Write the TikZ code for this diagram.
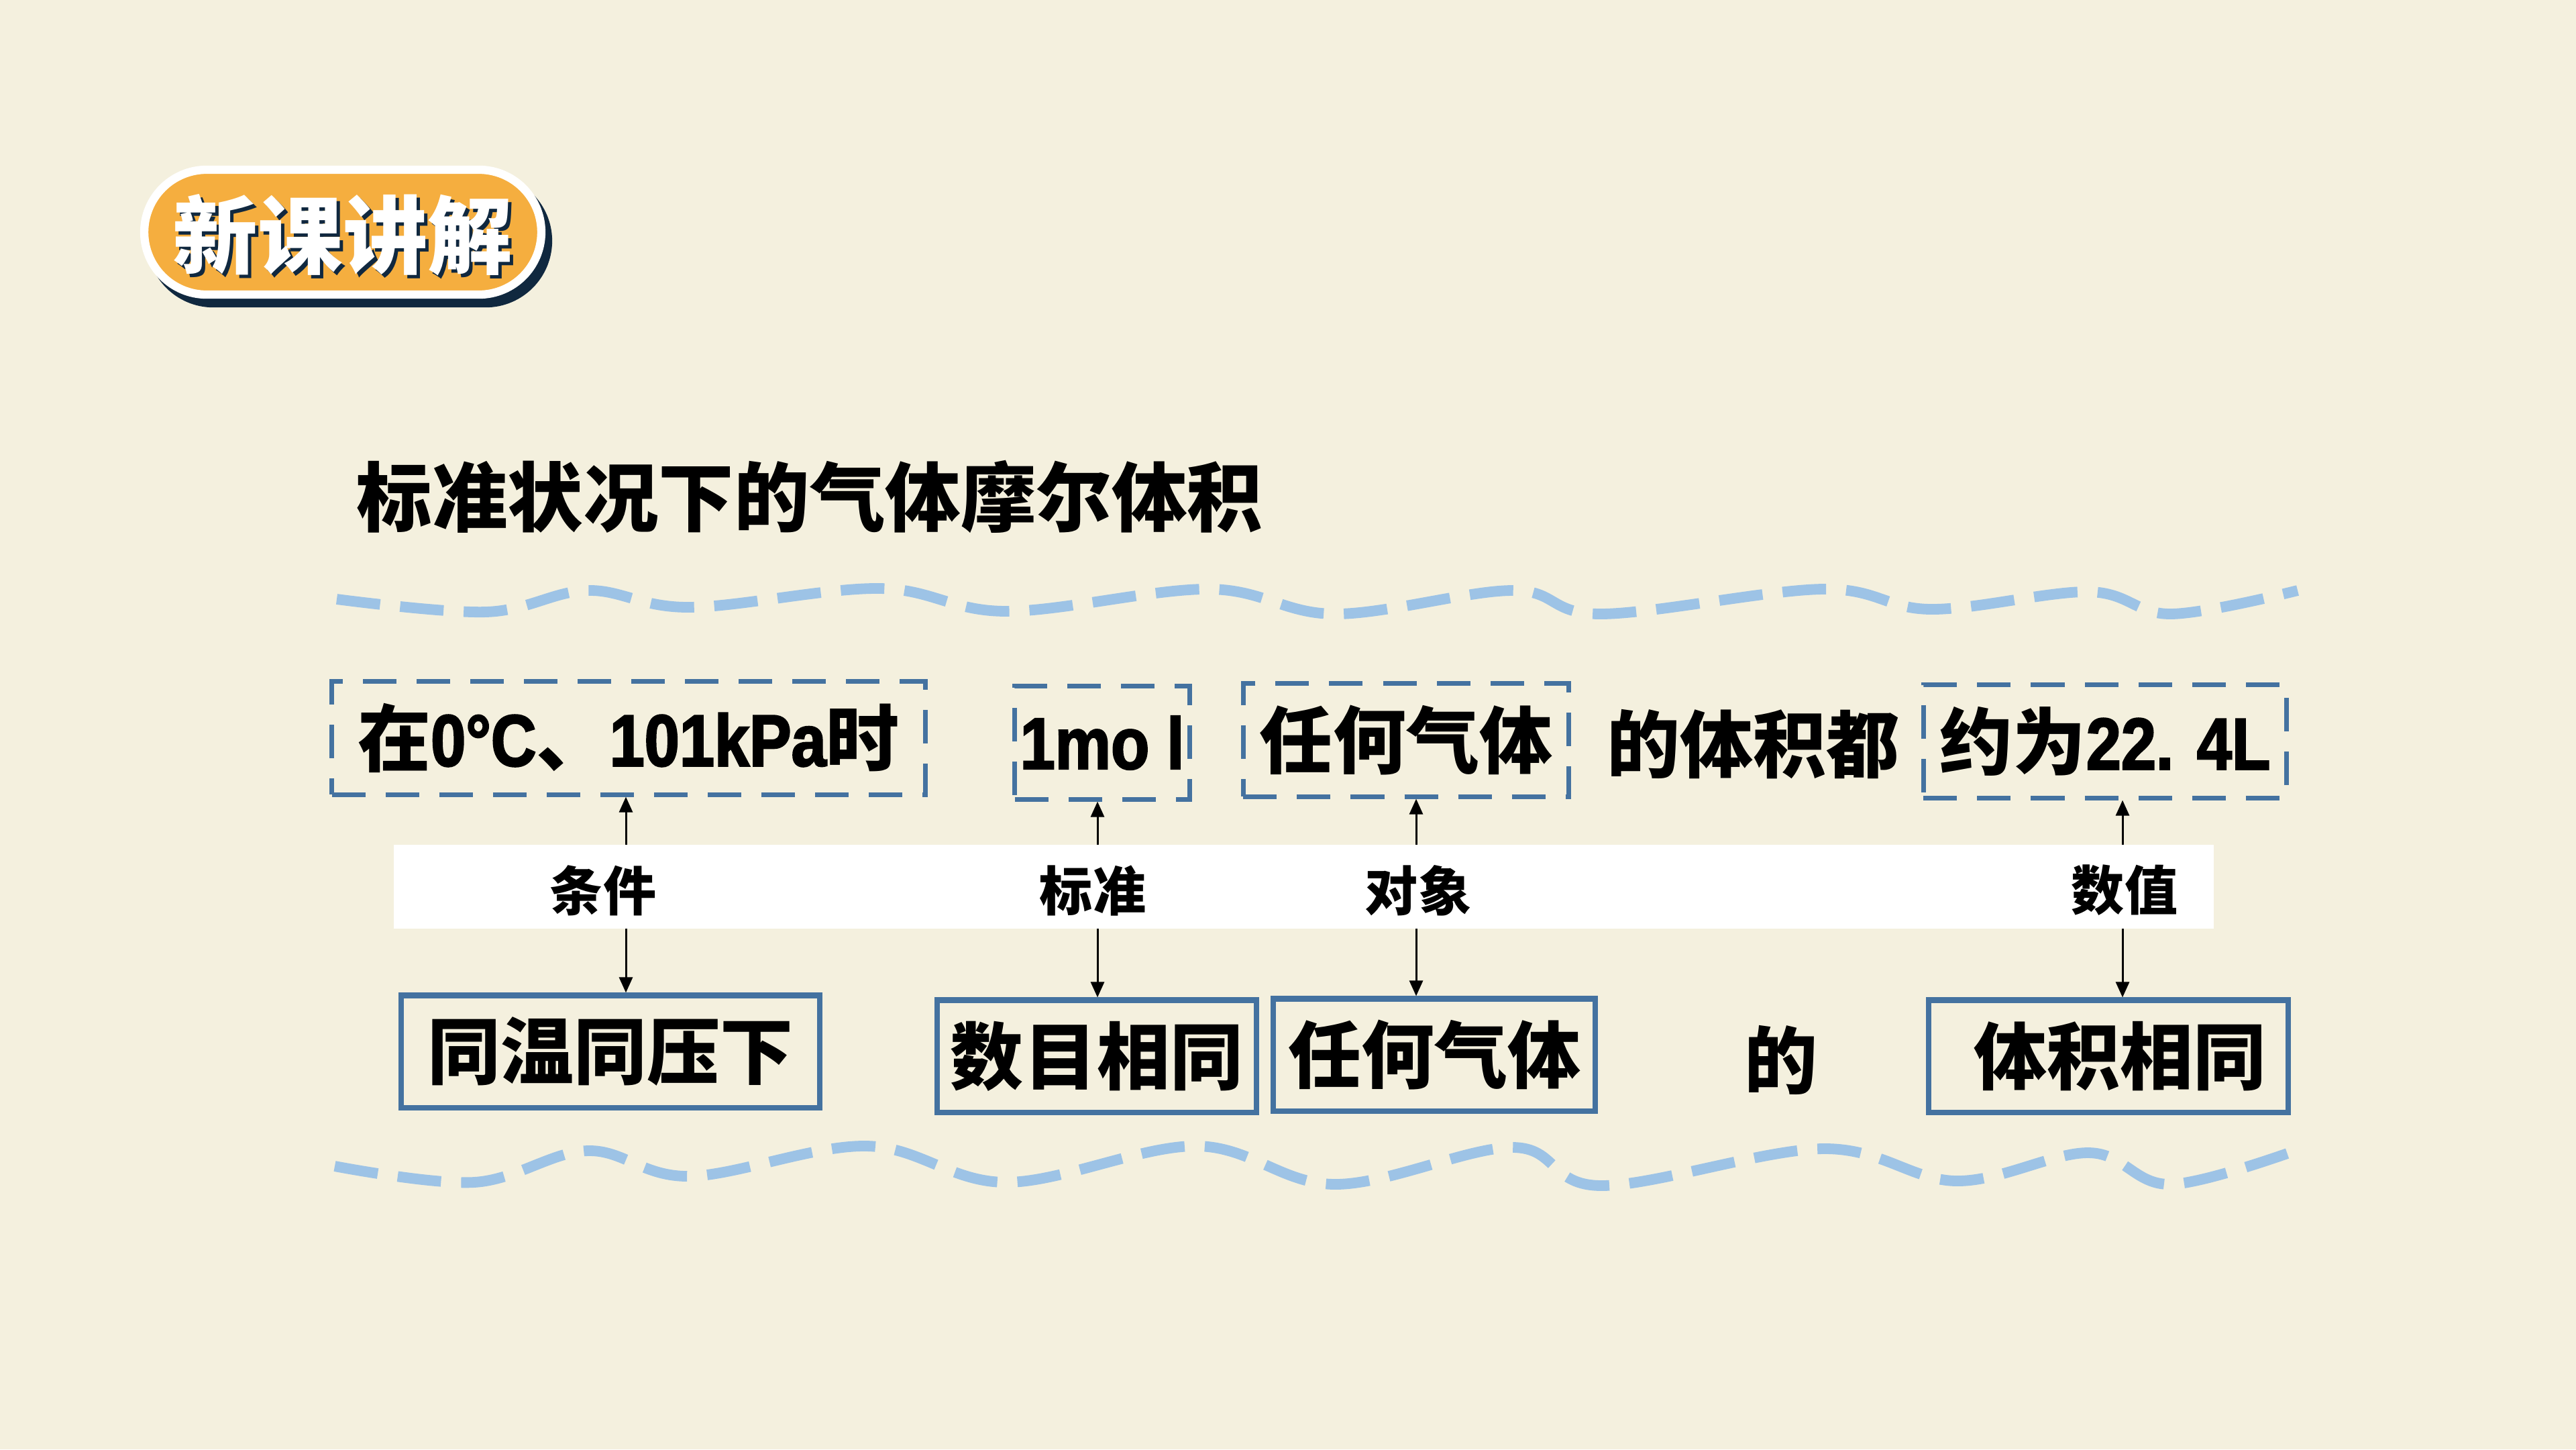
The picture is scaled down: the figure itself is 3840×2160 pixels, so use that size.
\documentclass[tikz,border=0pt]{standalone}
\usepackage{fontspec}
\setmainfont{Noto Sans CJK SC}
\newfontfamily\lat{Liberation Sans}[FakeStretch=0.86, FakeBold=2.2]
\usetikzlibrary{shapes.misc,arrows.meta}
\definecolor{bg}{HTML}{F4F0DE}
\definecolor{boxblue}{HTML}{4472A0}
\definecolor{wavecol}{HTML}{9DC3E6}
\definecolor{badgecol}{HTML}{F5AE3F}
\definecolor{navy}{HTML}{10283F}
\tikzset{
  bigfont/.style={font=\bfseries\fontsize{31}{31}\selectfont},
  dbox/.style={draw=boxblue, line width=2pt, dash pattern=on 0.5cm off 0.3cm, minimum height=1.68cm, inner sep=0pt, bigfont},
  sbox/.style={draw=boxblue, line width=2.3pt, minimum height=1.67cm, inner sep=0pt, bigfont},
  plaintext/.style={inner sep=0pt, bigfont},
  lbl/.style={inner sep=0pt, font=\bfseries\fontsize{22.5}{22.5}\selectfont},
  link/.style={{Triangle[length=0.23cm,width=0.2cm]}-{Triangle[length=0.23cm,width=0.2cm]}, line width=0.85pt},
  wavy/.style={draw=wavecol, line width=4.5pt, dash pattern=on 0.65cm off 0.3cm},
  pill/.style={rounded rectangle, line width=3.5pt, minimum width=6.15cm, minimum height=1.86cm},
}
\begin{document}
\begin{tikzpicture}[x=0.01cm,y=-0.01cm]
\fill[bg] (0,0) rectangle (3840,2160);
\useasboundingbox (0,0) rectangle (3840,2160);

% badge
\node[pill, fill=navy, draw=navy] (badgeshadow) at (521,359) {};
\node[pill, fill=badgecol, draw=white] (badge) at (511,346) {};
\node[text=navy, font=\bfseries\fontsize{36}{36}\selectfont, inner sep=0pt] (badgetextsh) at (516,355) {新课讲解};
\node[text=white, font=\bfseries\fontsize{36}{36}\selectfont, inner sep=0pt] (badgetext) at (511,350) {新课讲解};

% heading
\node[inner sep=0pt, font=\bfseries\fontsize{32}{32}\selectfont] (heading) at (1207,740) {标准状况下的气体摩尔体积};

% waves
\draw[wavy] plot[smooth, tension=0.6] coordinates {(502,893) (725,912) (876,880) (1028,905) (1311,877) (1500,911) (1802,878) (1990,915) (2255,880) (2387,915) (2717,878) (2878,908) (3114,882) (3236,915) (3425,880)};
\draw[wavy] plot[smooth, tension=0.6] coordinates {(499,1738) (707,1762) (876,1715) (1028,1753) (1292,1708) (1500,1762) (1783,1708) (1990,1765) (2255,1710) (2387,1767) (2717,1712) (2916,1760) (3114,1718) (3236,1765) (3435,1710)};

% top row
\node[dbox, minimum width=8.84cm] (t1) at (937,1100) {在{\lat 0°C}、{\lat 101kPa}时};
\node[dbox, minimum width=2.60cm] (t2) at (1643,1107) {\lat 1mo l};
\node[dbox, minimum width=4.85cm] (t3) at (2096,1103) {任何气体};
\node[plaintext] (t4) at (2613,1109) {的体积都};
\node[dbox, minimum width=5.41cm] (t5) at (3138,1105) {约为{\lat 22. 4L}};

% bottom row
\node[sbox, minimum width=6.24cm] (b1) at (910,1567) {同温同压下};
\node[sbox, minimum width=4.75cm] (b2) at (1635,1574) {数目相同};
\node[sbox, minimum width=4.80cm] (b3) at (2138,1572) {任何气体};
\node[plaintext] (b4) at (2655,1580) {的};
\node[sbox, minimum width=5.36cm] (b5) at (3143,1574) {\hspace*{0.35cm}体积相同};

% arrows
\coordinate (x1) at (933,0);
\coordinate (x2) at (1636,0);
\coordinate (x3) at (2111,0);
\coordinate (x4) at (3164,0);
\draw[link] (t1.south -| x1) -- (b1.north -| x1);
\draw[link] (t2.south -| x2) -- (b2.north -| x2);
\draw[link] (t3.south -| x3) -- (b3.north -| x3);
\draw[link] (t5.south -| x4) -- (b5.north -| x4);

% band
\node[fill=white, minimum width=27.11cm, minimum height=1.25cm, inner sep=0pt] (band) at (1943.5,1321.5) {};
\node[lbl] (l1) at (899,1327) {条件};
\node[lbl] (l2) at (1629,1327) {标准};
\node[lbl] (l3) at (2114,1327) {对象};
\node[lbl] (l4) at (3167,1327) {数值};
\end{tikzpicture}
\end{document}
